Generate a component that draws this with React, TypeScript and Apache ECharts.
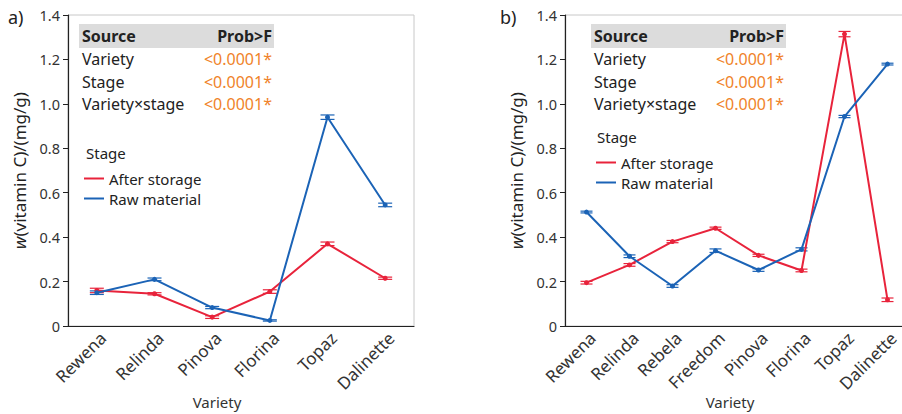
import React, { useEffect, useRef } from "react";
import * as echarts from "echarts";

const leftCats = ["Rewena", "Relinda", "Pinova", "Florina", "Topaz", "Dalinette"];
const leftAfter = [0.16, 0.145, 0.04, 0.155, 0.37, 0.215];
const leftAfterErr = [0.01, 0.005, 0.006, 0.008, 0.008, 0.005];
const leftRaw = [0.15, 0.21, 0.083, 0.025, 0.94, 0.545];
const leftRawErr = [0.008, 0.006, 0.005, 0.003, 0.01, 0.008];

const rightCats = ["Rewena", "Relinda", "Rebela", "Freedom", "Pinova", "Florina", "Topaz", "Dalinette"];
const rightAfter = [0.195, 0.275, 0.38, 0.44, 0.318, 0.25, 1.314, 0.118];
const rightAfterErr = [0.006, 0.006, 0.005, 0.005, 0.005, 0.006, 0.012, 0.008];
const rightRaw = [0.513, 0.314, 0.18, 0.339, 0.252, 0.345, 0.943, 1.179];
const rightRawErr = [0.004, 0.006, 0.006, 0.008, 0.006, 0.007, 0.005, 0.004];

const tableRows = [
  ["Variety", "<0.0001*"],
  ["Stage", "<0.0001*"],
  ["Variety×stage", "<0.0001*"],
];

const RED = "#e8233b";
const BLUE = "#1b63b6";
const ORANGE = "#f0832a";
const FONT = "Noto Sans";

function errSeries(name: string, vals: number[], errs: number[], color: string, idx: number, cap: number) {
  return {
    type: "custom",
    name,
    xAxisIndex: idx,
    yAxisIndex: idx,
    z: 3,
    silent: true,
    data: vals.map((v, i) => [i, v, errs[i]]),
    renderItem: (params: any, api: any) => {
      const x = api.value(0);
      const v = api.value(1);
      const e = api.value(2);
      const hi = api.coord([x, v + e]);
      const lo = api.coord([x, v - e]);
      const st = { stroke: color, lineWidth: 1.2 };
      return {
        type: "group",
        children: [
          { type: "line", shape: { x1: hi[0], y1: hi[1], x2: lo[0], y2: lo[1] }, style: st },
          { type: "line", shape: { x1: hi[0] - cap, y1: hi[1], x2: hi[0] + cap, y2: hi[1] }, style: st },
          { type: "line", shape: { x1: lo[0] - cap, y1: lo[1], x2: lo[0] + cap, y2: lo[1] }, style: st },
        ],
      };
    },
  };
}

function lineSeries(name: string, vals: number[], color: string, idx: number) {
  return {
    type: "line",
    name,
    xAxisIndex: idx,
    yAxisIndex: idx,
    data: vals,
    symbol: "circle",
    symbolSize: 5,
    z: 4,
    lineStyle: { color, width: 2 },
    itemStyle: { color },
  };
}

function tableGraphics(x0: number, x1: number) {
  const els: any[] = [
    { type: "rect", shape: { x: x0, y: 24, width: x1 - x0, height: 24 }, style: { fill: "#dcdcdc" } },
    { type: "text", x: x0 + 3, y: 36, style: { text: "Source", font: `bold 16px '${FONT}'`, fill: "#222", verticalAlign: "middle" } },
    { type: "text", x: x1 - 2, y: 36, style: { text: "Prob>F", font: `bold 16px '${FONT}'`, fill: "#222", align: "right", verticalAlign: "middle" } },
  ];
  tableRows.forEach((r, i) => {
    const y = 59 + i * 22.7;
    els.push({ type: "text", x: x0 + 3, y, style: { text: r[0], font: `16px '${FONT}'`, fill: "#222", verticalAlign: "middle" } });
    els.push({ type: "text", x: x1 - 2, y, style: { text: r[1], font: `16px '${FONT}'`, fill: ORANGE, align: "right", verticalAlign: "middle" } });
  });
  return els;
}

function yAxis(idx: number) {
  return {
    type: "value",
    gridIndex: idx,
    min: 0,
    max: 1.4,
    interval: 0.2,
    name: "{i|w}(vitamin C)/(mg/g)",
    nameLocation: "middle",
    nameRotate: 90,
    nameGap: 40,
    nameTextStyle: {
      fontFamily: FONT,
      fontSize: 17,
      color: "#222",
      rich: { i: { fontStyle: "italic", fontFamily: FONT, fontSize: 17, color: "#222" } },
    },
    axisLine: { show: true, lineStyle: { color: "#222", width: 1.2 } },
    axisTick: { show: true, length: 5, lineStyle: { color: "#222" } },
    splitLine: { show: false },
    axisLabel: {
      fontFamily: FONT,
      fontSize: 14.5,
      color: "#333",
      margin: 8,
      formatter: (v: number) => (v === 0 ? "0" : v.toFixed(1)),
    },
  };
}

function xAxis(idx: number, cats: string[], shift: number) {
  return {
    type: "category",
    gridIndex: idx,
    data: cats,
    name: "Variety",
    nameLocation: "middle",
    nameGap: 68,
    nameMoveOverlap: false,
    nameTextStyle: { fontFamily: FONT, fontSize: 15, color: "#333", padding: [0, shift * 2, 0, 0] },
    axisLine: { show: true, lineStyle: { color: "#222", width: 1.2 } },
    axisTick: { show: false },
    axisLabel: { rotate: 45, interval: 0, fontFamily: FONT, fontSize: 17, color: "#333", margin: 3, verticalAlign: "top" },
  };
}

export default function App() {
  const ref = useRef<HTMLDivElement>(null);
  useEffect(() => {
    if (!ref.current) return;
    const chart = echarts.init(ref.current, undefined, { renderer: "svg" });
    const legendBase = {
      orient: "vertical", icon: "rect", itemWidth: 20, itemHeight: 2, itemGap: 5,
      selectedMode: false,
      data: ["After storage", "Raw material"],
      textStyle: { fontFamily: FONT, fontSize: 15, color: "#222" },
    };
    const gridBase = {
      top: 15, height: 311, show: true, borderColor: "#c8c8c8", borderWidth: 1,
      backgroundColor: "transparent", containLabel: false, outerBoundsMode: "none",
    };
    const option: any = {
      animation: false,
      backgroundColor: "#fff",
      textStyle: { fontFamily: FONT },
      grid: [
        { ...gridBase, left: 68, width: 346 },
        { ...gridBase, left: 565, width: 344 },
      ],
      xAxis: [xAxis(0, leftCats, 24), xAxis(1, rightCats, 7)],
      yAxis: [yAxis(0), yAxis(1)],
      legend: [
        { ...legendBase, left: 79, top: 166 },
        { ...legendBase, left: 591, top: 150 },
      ],
      graphic: [
        { type: "text", x: 8, y: 17, style: { text: "a)", font: `18px '${FONT}'`, fill: "#222", verticalAlign: "middle" } },
        { type: "text", x: 500, y: 17, style: { text: "b)", font: `18px '${FONT}'`, fill: "#222", verticalAlign: "middle" } },
        ...tableGraphics(79, 274),
        ...tableGraphics(591, 786),
        { type: "text", x: 86, y: 153, style: { text: "Stage", font: `15px '${FONT}'`, fill: "#222", verticalAlign: "middle" } },
        { type: "text", x: 597, y: 137, style: { text: "Stage", font: `15px '${FONT}'`, fill: "#222", verticalAlign: "middle" } },
      ],
      series: [
        lineSeries("After storage", leftAfter, RED, 0),
        lineSeries("Raw material", leftRaw, BLUE, 0),
        errSeries("After storage", leftAfter, leftAfterErr, RED, 0, 7),
        errSeries("Raw material", leftRaw, leftRawErr, BLUE, 0, 7),
        lineSeries("After storage", rightAfter, RED, 1),
        lineSeries("Raw material", rightRaw, BLUE, 1),
        errSeries("After storage", rightAfter, rightAfterErr, RED, 1, 6),
        errSeries("Raw material", rightRaw, rightRawErr, BLUE, 1, 6),
      ],
    };
    chart.setOption(option);
    return () => chart.dispose();
  }, []);
  return (
    <div style={{ position: "fixed", left: 0, top: 0, width: 902, height: 414, overflow: "hidden", background: "#fff" }}>
      <div ref={ref} style={{ width: 902, height: 414 }} />
    </div>
  );
}
